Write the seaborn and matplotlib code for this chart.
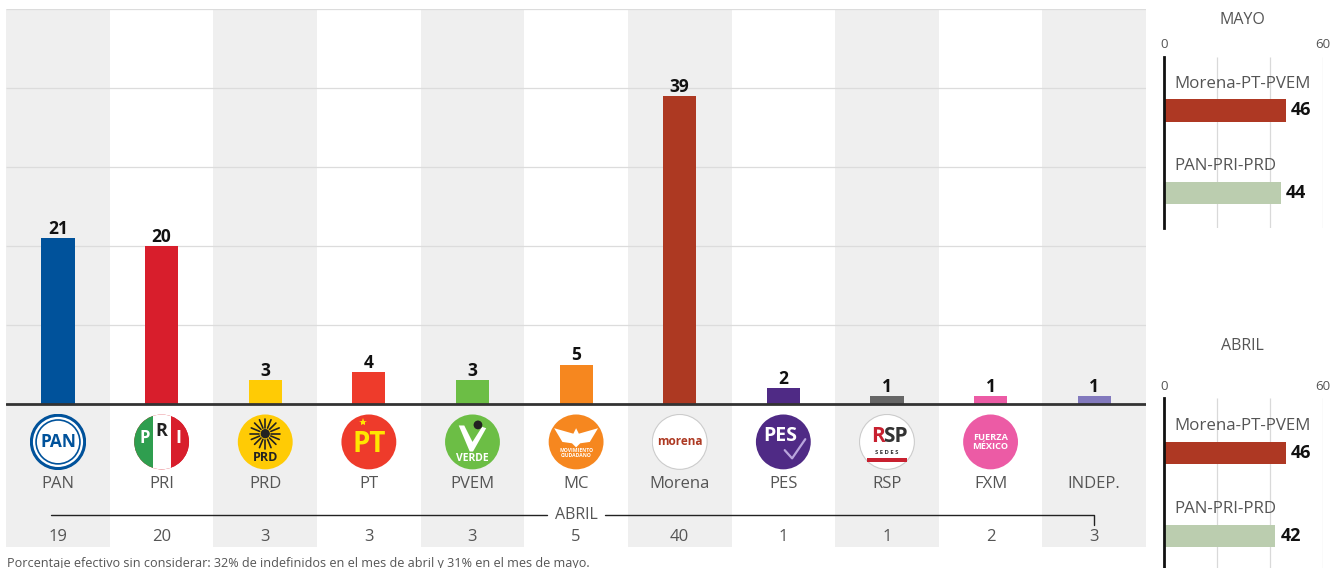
# -*- coding: utf-8 -*-
import matplotlib
matplotlib.use("Agg")
import matplotlib.pyplot as plt
from matplotlib.patches import Circle, Polygon, Rectangle
import numpy as np
import pandas as pd
import seaborn as sns

partidos = ["PAN", "PRI", "PRD", "PT", "PVEM", "MC", "Morena", "PES", "RSP", "FXM", "INDEP."]
mayo = [21, 20, 3, 4, 3, 5, 39, 2, 1, 1, 1]
abril = [19, 20, 3, 3, 3, 5, 40, 1, 1, 2, 3]
colores = ["#00529B", "#D81E2C", "#FFCB05", "#EE3B2B", "#6CBE45", "#F6871F",
           "#AD3922", "#4F2A85", "#666666", "#EC5BA5", "#8279BD"]

coaliciones = ["Morena-PT-PVEM", "PAN-PRI-PRD"]
coal_mayo = [46, 44]
coal_abril = [46, 42]
colores_coal = ["#AE3823", "#BBCDAF"]
ticks_coal = [0, 20, 40, 60]
ticks_coal_txt = ["0", "60"]
grid_main = [0, 10, 20, 30, 40, 50]

nota = "Porcentaje efectivo sin considerar: 32% de indefinidos en el mes de abril y 31% en el mes de mayo."

W, H = 1341, 568
FAM = ["Open Sans", "DejaVu Sans"]
TXT = "#555555"

sns.set_theme(style="white")
plt.rcParams["font.family"] = FAM


def caja(fig, x1, y1, x2, y2):
    # pixeles de la imagen -> axes
    return fig.add_axes([x1 / W, 1 - y2 / H, (x2 - x1) / W, (y2 - y1) / H])


def logo(axl, nombre, color):
    axl.set_xlim(-1.02, 1.02)
    axl.set_ylim(-1.02, 1.02)
    axl.set_aspect("equal")
    axl.axis("off")
    blanco = nombre in ("PAN", "Morena", "RSP")
    axl.add_patch(Circle((0, 0), 1, fc="white" if blanco else color,
                         ec="#cccccc" if blanco else "none", lw=0.8))
    bold = dict(family=["Open Sans", "DejaVu Sans"], weight="bold", ha="center", va="center")

    if nombre == "PAN":
        axl.add_patch(Circle((0, 0), 0.97, fc="white", ec=color, lw=2.2))
        axl.add_patch(Circle((0, 0), 0.8, fc="white", ec=color, lw=1.2))
        axl.text(0, 0, "PAN", color=color, fontsize=12.5, **bold)
    elif nombre == "PRI":
        disco = Circle((0, 0), 1, transform=axl.transData)
        for x0, c in zip([-1, -0.33, 0.33], ["#2F9E4F", "white", color]):
            r = Rectangle((x0, -1), 0.67, 2, fc=c, ec="none")
            axl.add_patch(r)
            r.set_clip_path(disco)
        axl.text(-0.62, 0.15, "P", color="white", fontsize=12, **bold)
        axl.text(0, 0.38, "R", color="#222222", fontsize=13, **bold)
        axl.text(0.62, 0.15, "I", color="white", fontsize=13, **bold)
    elif nombre == "PRD":
        for a in np.radians(np.arange(0, 360, 22.5)):
            axl.plot([0.22 * np.cos(a), 0.55 * np.cos(a)],
                     [0.3 + 0.22 * np.sin(a), 0.3 + 0.55 * np.sin(a)], color="#222222", lw=1.2)
        axl.add_patch(Circle((0, 0.3), 0.17, fc="#222222", ec="none"))
        axl.text(0, -0.58, "PRD", color="#222222", fontsize=9, **bold)
    elif nombre == "PT":
        axl.text(0, -0.1, "PT", color="#FFE600", fontsize=20, **bold)
        axl.plot([-0.22], [0.72], marker="*", color="#FFE600", ms=6, mew=0)
    elif nombre == "PVEM":
        axl.add_patch(Polygon([[-0.5, 0.6], [-0.3, 0.6], [0, 0.0], [0.35, 0.55], [0.5, 0.5],
                               [0.02, -0.35], [-0.1, -0.35]], fc="white", ec="none"))
        axl.add_patch(Circle((0.2, 0.62), 0.16, fc="#222222", ec="none"))
        axl.text(0, -0.62, "VERDE", color="white", fontsize=7.5, **bold)
    elif nombre == "MC":
        axl.add_patch(Polygon([[-0.8, 0.5], [-0.1, 0.3], [0, 0.5], [0.1, 0.3], [0.8, 0.5],
                               [0.5, 0.0], [0.15, -0.05], [0, -0.2], [-0.15, -0.05], [-0.5, 0.0]],
                              fc="white", ec="none"))
        axl.text(0, -0.42, "MOVIMIENTO\nCIUDADANO", color="white", fontsize=3.6,
                 linespacing=1.0, **bold)
    elif nombre == "Morena":
        axl.text(0, 0, "morena", color="#AD3922", fontsize=8.5, **bold)
    elif nombre == "PES":
        axl.text(-0.12, 0.22, "PES", color="white", fontsize=14, **bold)
        axl.plot([0.05, 0.32, 0.8], [-0.3, -0.6, 0.1], color="#B9A5DC", lw=1.6)
    elif nombre == "RSP":
        axl.text(-0.33, 0.2, "R", color="#C8202F", fontsize=15, **bold)
        axl.text(0.3, 0.2, "SP", color="#333333", fontsize=15, **bold)
        axl.text(0, -0.4, "S E D E S", color="#333333", fontsize=4.2, **bold)
        axl.add_patch(Rectangle((-0.72, -0.72), 1.44, 0.14, fc="#C8202F", ec="none"))
    elif nombre == "FXM":
        axl.text(0, 0.0, "FUERZA\nMÉXICO", color="white", fontsize=6.6, linespacing=1.1, **bold)


def panel_coal(fig, caja_px, valores, titulo, y_titulo, y_tick, ylim):
    ax = caja(fig, *caja_px)
    df = pd.DataFrame({"coal": coaliciones, "v": valores})
    ax.vlines(ticks_coal[1:], *ylim, color="#d9d9d9", lw=0.9, zorder=0)
    sns.barplot(data=df, x="v", y="coal", hue="coal", palette=colores_coal, order=coaliciones,
                hue_order=coaliciones, orient="h", width=0.27, saturation=1, legend=False,
                linewidth=0, ax=ax, zorder=2)
    ax.set_xlim(0, 60)
    ax.set_ylim(*ylim)
    ax.set_xlabel("")
    ax.set_ylabel("")
    ax.set_xticks([])
    ax.set_yticks([])
    sns.despine(ax=ax, top=True, right=True, bottom=True)
    ax.patch.set_alpha(0)
    ax.spines["left"].set_color("#111111")
    ax.spines["left"].set_linewidth(2)
    for i, (c, v) in enumerate(zip(coaliciones, valores)):
        ax.text(4, i - 0.325, c, fontsize=12.2, color=TXT, ha="left", va="center", zorder=3)
        ax.text(v + 2, i, str(v), fontsize=13, weight="bold", color="#111111", ha="left", va="center")
    xc = (caja_px[0] + caja_px[2]) / 2
    fig.text((xc - 1) / W, 1 - y_titulo / H, titulo, fontsize=11.5, color=TXT,
             ha="center", va="center")
    for px, t in zip((caja_px[0], caja_px[2]), ticks_coal_txt):
        fig.text(px / W, 1 - y_tick / H, t, fontsize=9.5, color=TXT,
                 ha="center", va="center")
    return ax


fig = plt.figure(figsize=(W / 100, H / 100), dpi=100)
fig.patch.set_facecolor("white")

# panel principal: 7.9 px por punto, base en y=404
ax = caja(fig, 6.2, 9, 1146, 547)
df = pd.DataFrame({"partido": partidos, "mayo": mayo})
y_min = -(547 - 404) / 7.9

for i in range(len(partidos)):
    if i % 2 == 0:
        ax.axvspan(i - 0.5, i + 0.5, color="#EFEFEF", lw=0, zorder=0)
ax.hlines(grid_main[1:], -0.5, len(partidos) - 0.5, color="#dcdcdc", lw=0.9, zorder=1)

sns.barplot(data=df, x="partido", y="mayo", hue="partido", palette=colores, order=partidos,
            hue_order=partidos, width=0.32, saturation=1, legend=False, linewidth=0, ax=ax, zorder=2)
ax.set_xlim(-0.5, len(partidos) - 0.5)
ax.set_ylim(y_min, 50)
ax.set_xlabel("")
ax.set_ylabel("")
ax.set_xticks([])
ax.set_yticks([])
sns.despine(ax=ax, left=True, bottom=True, top=True, right=True)
ax.axhline(0, color="#333333", lw=2, zorder=3)

for i, (p, m, a) in enumerate(zip(partidos, mayo, abril)):
    ax.text(i, m + 0.05, str(m), fontsize=12.5, weight="bold", color="#111111", ha="center", va="bottom")
    ax.text(i, -10.1, p, fontsize=12, color=TXT, ha="center", va="center")
    ax.text(i, -16.8, str(a), fontsize=12, color=TXT, ha="center", va="center")
    if p != "INDEP.":
        axl = ax.inset_axes([i - 0.27, -8.35, 0.54, 7.1], transform=ax.transData)
        logo(axl, p, colores[i])

# linea ABRIL
ax.plot([-0.07, 4.72], [-14, -14], color="#222222", lw=1, zorder=3)
ax.plot([5.28, 10, 10], [-14, -14, -15.3], color="#222222", lw=1, zorder=3)
ax.text(5, -14, "ABRIL", fontsize=11.5, color=TXT, ha="center", va="center", zorder=4)

fig.text(7 / W, 1 - 563 / H, nota, fontsize=9.1, color=TXT, ha="left", va="center")

panel_coal(fig, (1164, 57, 1323, 228), coal_mayo, "MAYO", 20, 45, (1.424, -0.648))
panel_coal(fig, (1164, 398, 1323, 568), coal_abril, "ABRIL", 346, 387, (1.386, -0.663))

fig.savefig("out.png", dpi=100)
plt.close(fig)
